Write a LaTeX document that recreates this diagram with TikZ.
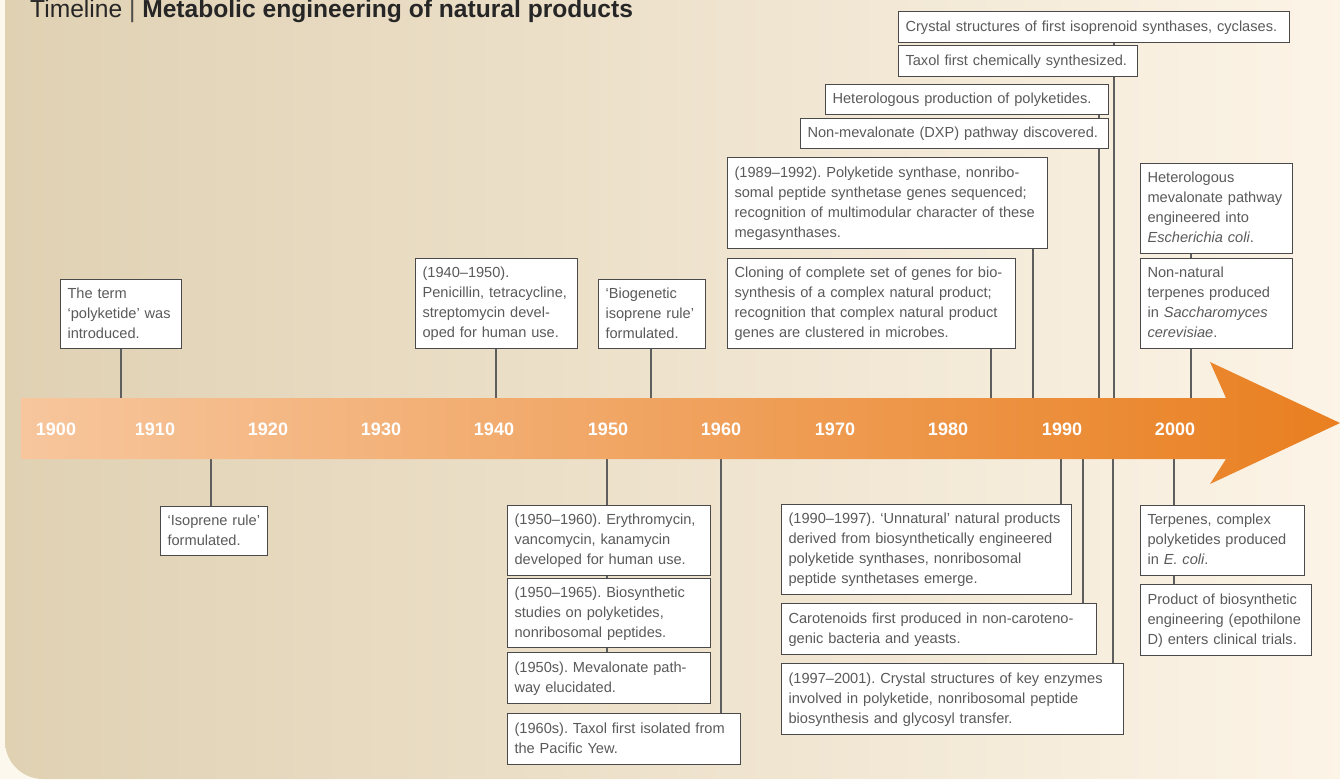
\documentclass[tikz,border=0pt]{standalone}
\usepackage{fontspec}
\setmainfont{Liberation Sans}
\usetikzlibrary{backgrounds}
\frenchspacing
\definecolor{outer}{HTML}{FDF8EE}
\definecolor{panelL}{HTML}{E0D1B3}
\definecolor{panelR}{HTML}{FCF4E7}
\definecolor{arrL}{HTML}{F7C69D}
\definecolor{arrM}{HTML}{F0A262}
\definecolor{arrR}{HTML}{E97F20}
\definecolor{txt}{HTML}{5A5A5A}
\definecolor{edge}{HTML}{4A4A4A}
\definecolor{conncol}{HTML}{5E5E5E}
\tikzset{
  tlbox/.style={draw=edge, line width=1.1pt, fill=white, anchor=north west,
    inner xsep=7pt, inner ysep=0pt, text=txt, font=\fontsize{14.6}{20}\selectfont},
  conn/.style={draw=conncol, line width=1.2pt},
  yearlbl/.style={text=white, font=\bfseries\fontsize{18}{20}\selectfont, inner sep=0pt},
}
\newcommand\tlbx[6]{%
  \pgfmathsetmacro\bw{#4-#2}\pgfmathsetmacro\bh{#5-#3}\pgfmathsetmacro\tw{#4-#2-14}%
  \node[tlbox, minimum width=\bw pt, minimum height=\bh pt, text width=\tw pt] (#1) at (#2,#3)
    {\begin{tabular}{@{}l@{}}#6\end{tabular}};}
\begin{document}
\begin{tikzpicture}[x=1pt, y=-1pt]
\useasboundingbox (0,0) rectangle (1340,779);
% title
\node[anchor=base west, inner sep=0pt, text=black!85, font=\fontsize{24.6}{26}\selectfont] (title) at (30,17)
  {Timeline {\color{black!70}|} \textbf{Metabolic engineering of natural products}};
% top boxes
\tlbx{b1}{60}{279}{181}{348}{The term\\‘polyketide’ was\\introduced.}
\tlbx{b2}{415}{258}{577}{348}{(1940–1950).\\Penicillin, tetracycline,\\streptomycin devel-\\oped for human use.}
\tlbx{b3}{598}{279}{705}{348}{‘Biogenetic\\isoprene rule’\\formulated.}
\tlbx{b4}{727}{258}{1015}{348}{Cloning of complete set of genes for bio-\\synthesis of a complex natural product;\\recognition that complex natural product\\genes are clustered in microbes.}
\tlbx{b5}{727}{157}{1047}{248}{(1989–1992). Polyketide synthase, nonribo-\\somal peptide synthetase genes sequenced;\\recognition of multimodular character of these\\megasynthases.}
\tlbx{b6}{800}{118}{1108}{148}{Non-mevalonate (DXP) pathway discovered.}
\tlbx{b7}{825}{84}{1108}{114}{Heterologous production of polyketides.}
\tlbx{b8}{898}{45}{1137}{76}{Taxol first chemically synthesized.}
\tlbx{b9}{898}{11}{1289}{42}{Crystal structures of first isoprenoid synthases, cyclases.}
\tlbx{b10}{1140}{163}{1292}{253}{Heterologous\\mevalonate pathway\\engineered into\\\textit{Escherichia coli}.}
\tlbx{b11}{1140}{258}{1292}{348}{Non-natural\\terpenes produced\\in \textit{Saccharomyces}\\\textit{cerevisiae}.}
% bottom boxes
\tlbx{b12}{160}{506}{267}{555}{‘Isoprene rule’\\formulated.}
\tlbx{b13}{507}{505}{710}{575}{(1950–1960). Erythromycin,\\vancomycin, kanamycin\\developed for human use.}
\tlbx{b14}{507}{578}{710}{647}{(1950–1965). Biosynthetic\\studies on polyketides,\\nonribosomal peptides.}
\tlbx{b15}{507}{652}{710}{703}{(1950s). Mevalonate path-\\way elucidated.}
\tlbx{b16}{507}{713}{740}{764}{(1960s). Taxol first isolated from\\the Pacific Yew.}
\tlbx{b17}{781}{504}{1071}{594}{(1990–1997). ‘Unnatural’ natural products\\derived from biosynthetically engineered\\polyketide synthases, nonribosomal\\peptide synthetases emerge.}
\tlbx{b18}{781}{603}{1096}{654}{Carotenoids first produced in non-caroteno-\\genic bacteria and yeasts.}
\tlbx{b19}{781}{663}{1123}{734}{(1997–2001). Crystal structures of key enzymes\\involved in polyketide, nonribosomal peptide\\biosynthesis and glycosyl transfer.}
\tlbx{b20}{1140}{505}{1304}{575}{Terpenes, complex\\polyketides produced\\in \textit{E. coli}.}
\tlbx{b21}{1140}{584}{1311}{655}{Product of biosynthetic\\engineering (epothilone\\D) enters clinical trials.}
\begin{scope}[on background layer]
  \fill[outer] (0,0) rectangle (1340,779);
  \shade[left color=panelL, right color=panelR] (1350,-10) -- (5,-10) [rounded corners=38pt] -- (5,779) [sharp corners] -- (1350,779) -- cycle;
  % connectors
  \coordinate (t1) at (121,398);  \draw[conn] (t1) -- (t1 |- b1.south);
  \coordinate (t2) at (496,398);  \draw[conn] (t2) -- (t2 |- b2.south);
  \coordinate (t3) at (651,398);  \draw[conn] (t3) -- (t3 |- b3.south);
  \coordinate (t4) at (991,398);  \draw[conn] (t4) -- (t4 |- b4.south);
  \coordinate (t5) at (1033,398); \draw[conn] (t5) -- (t5 |- b5.south);
  \coordinate (t6) at (1099,398); \draw[conn] (t6) -- (t6 |- b7.south);
  \coordinate (t7) at (1114,398); \draw[conn] (t7) -- (t7 |- b9.south);
  \coordinate (t8) at (1191,398); \draw[conn] (t8) -- (t8 |- b10.south);
  \coordinate (u1) at (211,459);  \draw[conn] (u1) -- (u1 |- b12.north);
  \coordinate (u2) at (607,459);  \draw[conn] (u2) -- (u2 |- b15.north);
  \coordinate (u3) at (721,459);  \draw[conn] (u3) -- (u3 |- b16.north);
  \coordinate (u4) at (1061,459); \draw[conn] (u4) -- (u4 |- b17.north);
  \coordinate (u5) at (1083,459); \draw[conn] (u5) -- (u5 |- b18.north);
  \coordinate (u6) at (1113,459); \draw[conn] (u6) -- (u6 |- b19.north);
  \coordinate (u7) at (1174,459); \draw[conn] (u7) -- (u7 |- b21.north);
  % arrow
  \shade[left color=arrL, middle color=arrM, right color=arrR]
    (21,398) -- (1226,398) -- (1210,362) -- (1340,423) -- (1210,484) -- (1226,459) -- (21,459) -- cycle;
\end{scope}
% years
\node[yearlbl] (y1900) at (56,429) {1900};
\node[yearlbl] (y1910) at (155,429) {1910};
\node[yearlbl] (y1920) at (268,429) {1920};
\node[yearlbl] (y1930) at (381,429) {1930};
\node[yearlbl] (y1940) at (494,429) {1940};
\node[yearlbl] (y1950) at (608,429) {1950};
\node[yearlbl] (y1960) at (721,429) {1960};
\node[yearlbl] (y1970) at (835,429) {1970};
\node[yearlbl] (y1980) at (948,429) {1980};
\node[yearlbl] (y1990) at (1062,429) {1990};
\node[yearlbl] (y2000) at (1175,429) {2000};
\end{tikzpicture}
\end{document}
